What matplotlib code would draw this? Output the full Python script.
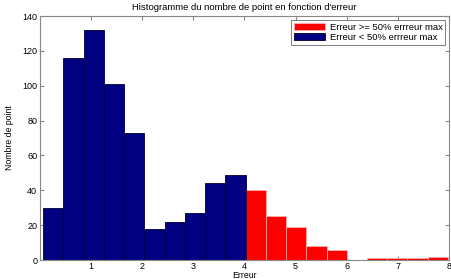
import matplotlib
matplotlib.use("Agg")
import matplotlib.pyplot as plt
import numpy as np

# Data
bin_start = 0.06
bin_width = 0.396
counts_low = [30, 116, 132, 101, 73, 18, 22, 27, 44, 49]
counts_high = [40, 25, 19, 8, 6, 0, 1, 1, 1, 2]
label_high = "Erreur >= 50% errreur max"
label_low = "Erreur < 50% errreur max"
title = "Histogramme du nombre de point en fonction d'erreur"
xlabel = "Erreur"
ylabel = "Nombre de point"
xticks = [1, 2, 3, 4, 5, 6, 7, 8]
yticks = [0, 20, 40, 60, 80, 100, 120, 140]

plt.rcParams['font.family'] = ['Liberation Sans', 'DejaVu Sans']
fig = plt.figure(figsize=(4.52, 2.79), dpi=100)
ax = fig.add_axes([40/452, 1 - 260/279, 409/452, 244/279])

n_low = len(counts_low)
n_high = len(counts_high)
left_low = bin_start + bin_width * np.arange(n_low)
left_high = bin_start + bin_width * (n_low + np.arange(n_high))

ax.bar(left_high, counts_high, width=bin_width, align='edge',
       color='#ff0000', edgecolor='#ffb0b0', linewidth=0.6, label=label_high, zorder=2)
ax.bar(left_low, counts_low, width=bin_width, align='edge',
       color='#000080', edgecolor='#000030', linewidth=0.6, label=label_low, zorder=2)

ax.set_xlim(0, 8)
ax.set_ylim(0, 140)
ax.set_xticks(xticks)
ax.set_yticks(yticks)
ax.tick_params(direction='in', length=3, labelsize=6.5, top=True, right=True,
               color='#888888', pad=2)
ax.tick_params(axis='x', pad=1.5)
for s in ax.spines.values():
    s.set_color('#888888')
    s.set_linewidth(0.8)

ax.set_title(title, fontsize=6.8, pad=4)
ax.set_xlabel(xlabel, fontsize=6.3, labelpad=0)
ax.set_ylabel(ylabel, fontsize=6.3, labelpad=6)

leg = ax.legend(loc='upper right', fontsize=6.8, frameon=True, fancybox=False,
                edgecolor='#444444', handlelength=3.3, handleheight=0.8,
                borderaxespad=0.4, labelspacing=0.15, borderpad=0.3, handletextpad=0.5)
leg.get_frame().set_linewidth(0.6)

fig.savefig("out.png", dpi=100)
